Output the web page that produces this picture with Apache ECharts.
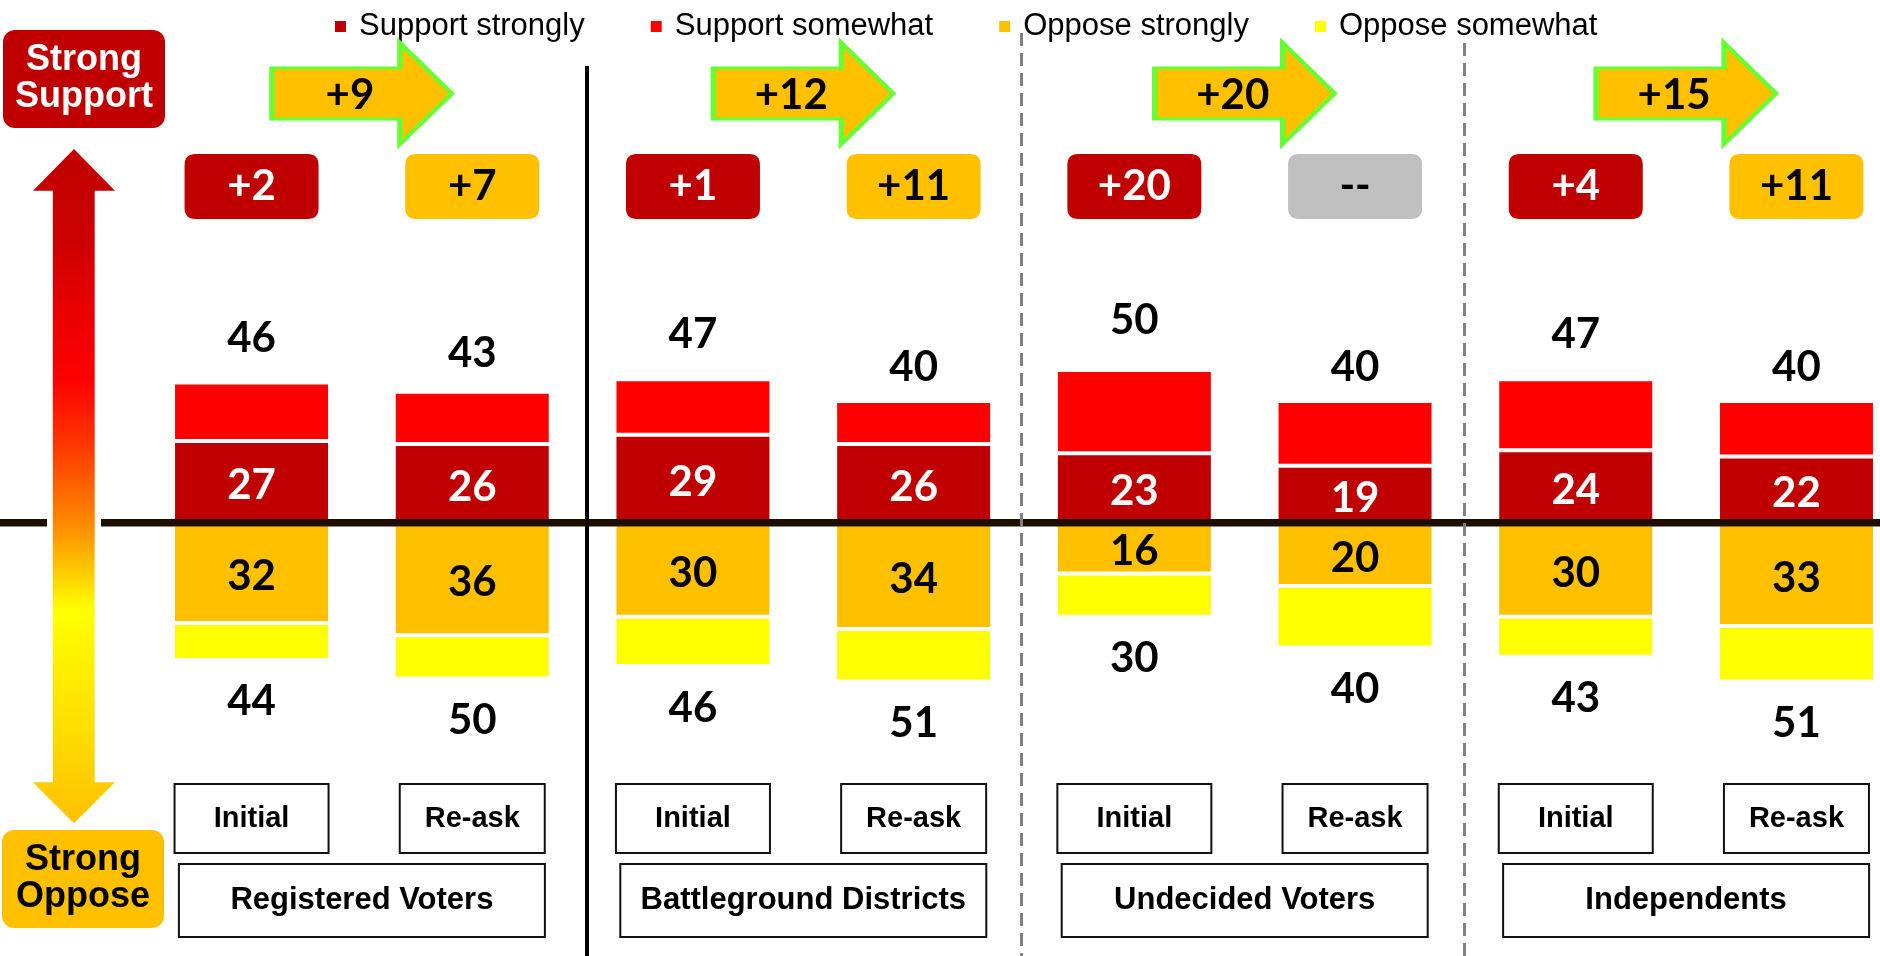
<!DOCTYPE html>
<html>
<head>
<meta charset="utf-8">
<script src="https://cdn.jsdelivr.net/npm/echarts@6/dist/echarts.min.js"></script>
<style>html,body{margin:0;padding:0;background:#fff}#c{width:1880px;height:956px}</style>
</head>
<body>
<div id="c"></div>
<script>
// ---- data ----
const categories = ['Initial', 'Re-ask', 'Initial', 'Re-ask', 'Initial', 'Re-ask', 'Initial', 'Re-ask'];
const groups = ['Registered Voters', 'Battleground Districts', 'Undecided Voters', 'Independents'];
const supportStrongly = [27, 26, 29, 26, 23, 19, 24, 22];
const supportSomewhat = [19, 17, 18, 14, 27, 21, 23, 18];
const opposeStrongly = [32, 36, 30, 34, 16, 20, 30, 33];
const opposeSomewhat = [12, 14, 16, 17, 14, 20, 13, 18];
const marginBadges = ['+2', '+7', '+1', '+11', '+20', '--', '+4', '+11'];
const shiftArrows = ['+9', '+12', '+20', '+15'];

// ---- layout constants (value-axis units) ----
const BADGE_Y = 109.5;
const ARROW_Y = 139.7;
const GROUP_Y = -122;

const supportTotal = supportStrongly.map((v, i) => v + supportSomewhat[i]);
const opposeTotal = opposeStrongly.map((v, i) => v + opposeSomewhat[i]);

const NUM_FONT = 'Lato';
const TXT_FONT = '"Liberation Sans", Arial, sans-serif';

const chart = echarts.init(document.getElementById('c'), null, {renderer: 'canvas'});

const roundRect = 'path://M11,0L123,0Q134,0,134,11L134,54Q134,65,123,65L11,65Q0,65,0,54L0,11Q0,0,11,0Z';
const arrowPath = 'path://M0,25L128,25L128,0L180,50.5L128,101L128,76L0,76Z';

const numLabel = {fontFamily: NUM_FONT, fontWeight: 'bold', fontSize: 42};

const option = {
  animation: false,
  backgroundColor: '#fff',
  legend: {
    data: ['Support strongly', 'Support somewhat', 'Oppose strongly', 'Oppose somewhat'],
    left: 328, top: 6,
    icon: 'rect', itemWidth: 13, itemHeight: 13, itemGap: 64,
    selectedMode: false,
    textStyle: {fontFamily: TXT_FONT, fontSize: 31, color: '#000', padding: [0, 0, 0, 7]}
  },
  grid: {left: 141.2, width: 1765.6, top: 0, height: 956, containLabel: false, outerBoundsMode: 'none'},
  xAxis: [
    {
      type: 'category', data: categories, boundaryGap: true,
      axisLine: {show: false}, axisTick: {show: false}, splitLine: {show: false},
      axisLabel: {
        inside: true, margin: 104, interval: 0,
        formatter: v => v === 'Initial' ? '{i|' + v + '}' : '{r|' + v + '}',
        rich: {
          i: {width: 152, height: 67, lineHeight: 67, align: 'center', borderColor: '#111', borderWidth: 2,
              backgroundColor: '#fff', fontFamily: TXT_FONT, fontWeight: 'bold', fontSize: 29, color: '#000'},
          r: {width: 143, height: 67, lineHeight: 67, align: 'center', borderColor: '#111', borderWidth: 2,
              backgroundColor: '#fff', fontFamily: TXT_FONT, fontWeight: 'bold', fontSize: 29, color: '#000'}
        }
      }
    },
    {type: 'category', data: groups, boundaryGap: true, show: false, position: 'top'}
  ],
  yAxis: {type: 'value', min: -140, max: 170, show: false, splitLine: {show: false}},
  series: [
    {
      name: 'Support strongly', type: 'bar', stack: 'vote', barWidth: 157, z: 2,
      itemStyle: {color: '#C00000', borderColor: '#fff', borderWidth: 2},
      label: Object.assign({show: true, position: 'inside', offset: [0, 3], color: '#fff'}, numLabel),
      data: supportStrongly
    },
    {
      name: 'Support somewhat', type: 'bar', stack: 'vote', barWidth: 157, z: 2,
      itemStyle: {color: '#FF0000', borderColor: '#fff', borderWidth: 2},
      data: supportSomewhat
    },
    {
      name: 'Oppose strongly', type: 'bar', stack: 'vote', barWidth: 157, z: 2,
      itemStyle: {color: '#FFC000', borderColor: '#fff', borderWidth: 2},
      label: Object.assign({show: true, position: 'inside', offset: [0, 3], color: '#000', formatter: p => Math.abs(p.value)}, numLabel),
      data: opposeStrongly.map(v => -v)
    },
    {
      name: 'Oppose somewhat', type: 'bar', stack: 'vote', barWidth: 157, z: 2,
      itemStyle: {color: '#FFFF00', borderColor: '#fff', borderWidth: 2},
      label: Object.assign({show: true, position: 'bottom', distance: 21, color: '#000',
        formatter: p => opposeTotal[p.dataIndex]}, numLabel),
      data: opposeSomewhat.map(v => -v)
    },
    {
      name: 'supportTotals', type: 'scatter', symbolSize: 1, z: 4,
      itemStyle: {color: 'rgba(0,0,0,0)', opacity: 1},
      label: Object.assign({show: true, position: 'inside', color: '#000', formatter: p => p.value[2]}, numLabel),
      data: supportTotal.map((t, i) => [i, 1.525 * t - 10.05, t])
    },
    {
      name: 'badges', type: 'scatter', symbol: roundRect, symbolSize: [134, 65], z: 4,
      data: marginBadges.map((b, i) => ({
        value: [i, BADGE_Y, b],
        itemStyle: {color: b === '--' ? '#C0C0C0' : (i % 2 === 0 ? '#C00000' : '#FFC000'), opacity: 1},
        label: {color: (b !== '--' && i % 2 === 0) ? '#fff' : '#000'}
      })),
      itemStyle: {opacity: 1},
      label: Object.assign({show: true, position: 'inside', formatter: p => p.value[2]}, numLabel)
    },
    {
      name: 'arrows', type: 'scatter', xAxisIndex: 1, symbol: arrowPath, symbolSize: [180, 101], z: 4,
      itemStyle: {color: '#FFC000', borderColor: '#66FF33', borderWidth: 4, opacity: 1},
      label: Object.assign({show: true, position: 'inside', offset: [-12, 2], color: '#000', formatter: p => p.value[2]}, numLabel),
      data: shiftArrows.map((a, j) => [j, ARROW_Y, a])
    },
    {
      name: 'groupBoxes', type: 'scatter', xAxisIndex: 1, symbolSize: 1, z: 4,
      itemStyle: {color: 'rgba(0,0,0,0)', opacity: 1},
      label: {show: true, position: 'inside', color: '#000', fontFamily: TXT_FONT, fontWeight: 'bold', fontSize: 31,
        width: 364, height: 71, lineHeight: 71, align: 'center', verticalAlign: 'middle',
        backgroundColor: '#fff', borderColor: '#111', borderWidth: 2,
        formatter: p => p.value[2]},
      data: groups.map((g, j) => [j, GROUP_Y, g])
    }
  ]
};
chart.setOption(option);

const zeroY = chart.convertToPixel({yAxisIndex: 0}, 0) - 1.5;

chart.setOption({
  graphic: [
    {type: 'rect', z: 50, shape: {x: 3, y: 30, width: 162, height: 98, r: 12}, style: {fill: '#C00000'}},
    {type: 'text', z: 51, x: 84, y: 79, style: {text: 'Strong\nSupport', fill: '#fff', font: 'bold 36px "Liberation Sans"', align: 'center', verticalAlign: 'middle', lineHeight: 37}},
    {type: 'rect', z: 50, shape: {x: 2, y: 830, width: 162, height: 98, r: 12}, style: {fill: '#FFC000'}},
    {type: 'text', z: 51, x: 83, y: 879, style: {text: 'Strong\nOppose', fill: '#000', font: 'bold 36px "Liberation Sans"', align: 'center', verticalAlign: 'middle', lineHeight: 37}},
    {type: 'polygon', z: 50,
      shape: {points: [[74, 149], [115, 190.7], [94.7, 190.7], [94.7, 782.3], [115, 782.3], [74, 823.3], [33, 782.3], [52.8, 782.3], [52.8, 190.7], [33, 190.7]]},
      style: {fill: new echarts.graphic.LinearGradient(0, 0, 0, 1, [
        {offset: 0, color: '#C00000'}, {offset: 0.135, color: '#CC0000'}, {offset: 0.224, color: '#E60000'},
        {offset: 0.343, color: '#FF0000'}, {offset: 0.447, color: '#FF3C00'}, {offset: 0.558, color: '#FF8C00'},
        {offset: 0.684, color: '#FFFF00'}, {offset: 0.818, color: '#FFE600'}, {offset: 1, color: '#FFC000'}])}},
    {type: 'line', z: 60, shape: {x1: 0, y1: zeroY, x2: 47, y2: zeroY}, style: {stroke: '#1E0E00', lineWidth: 7.5}},
    {type: 'line', z: 60, shape: {x1: 101, y1: zeroY, x2: 1880, y2: zeroY}, style: {stroke: '#1E0E00', lineWidth: 7.5}},
    {type: 'line', z: 61, shape: {x1: 587, y1: 66, x2: 587, y2: 956}, style: {stroke: '#000', lineWidth: 4}},
    {type: 'line', z: 61, shape: {x1: 1021.5, y1: 33, x2: 1021.5, y2: 956}, style: {stroke: '#808080', lineWidth: 3, lineDash: [13, 7]}},
    {type: 'line', z: 61, shape: {x1: 1464.5, y1: 43, x2: 1464.5, y2: 956}, style: {stroke: '#808080', lineWidth: 3, lineDash: [13, 7]}}
  ]
});
</script>
</body>
</html>
